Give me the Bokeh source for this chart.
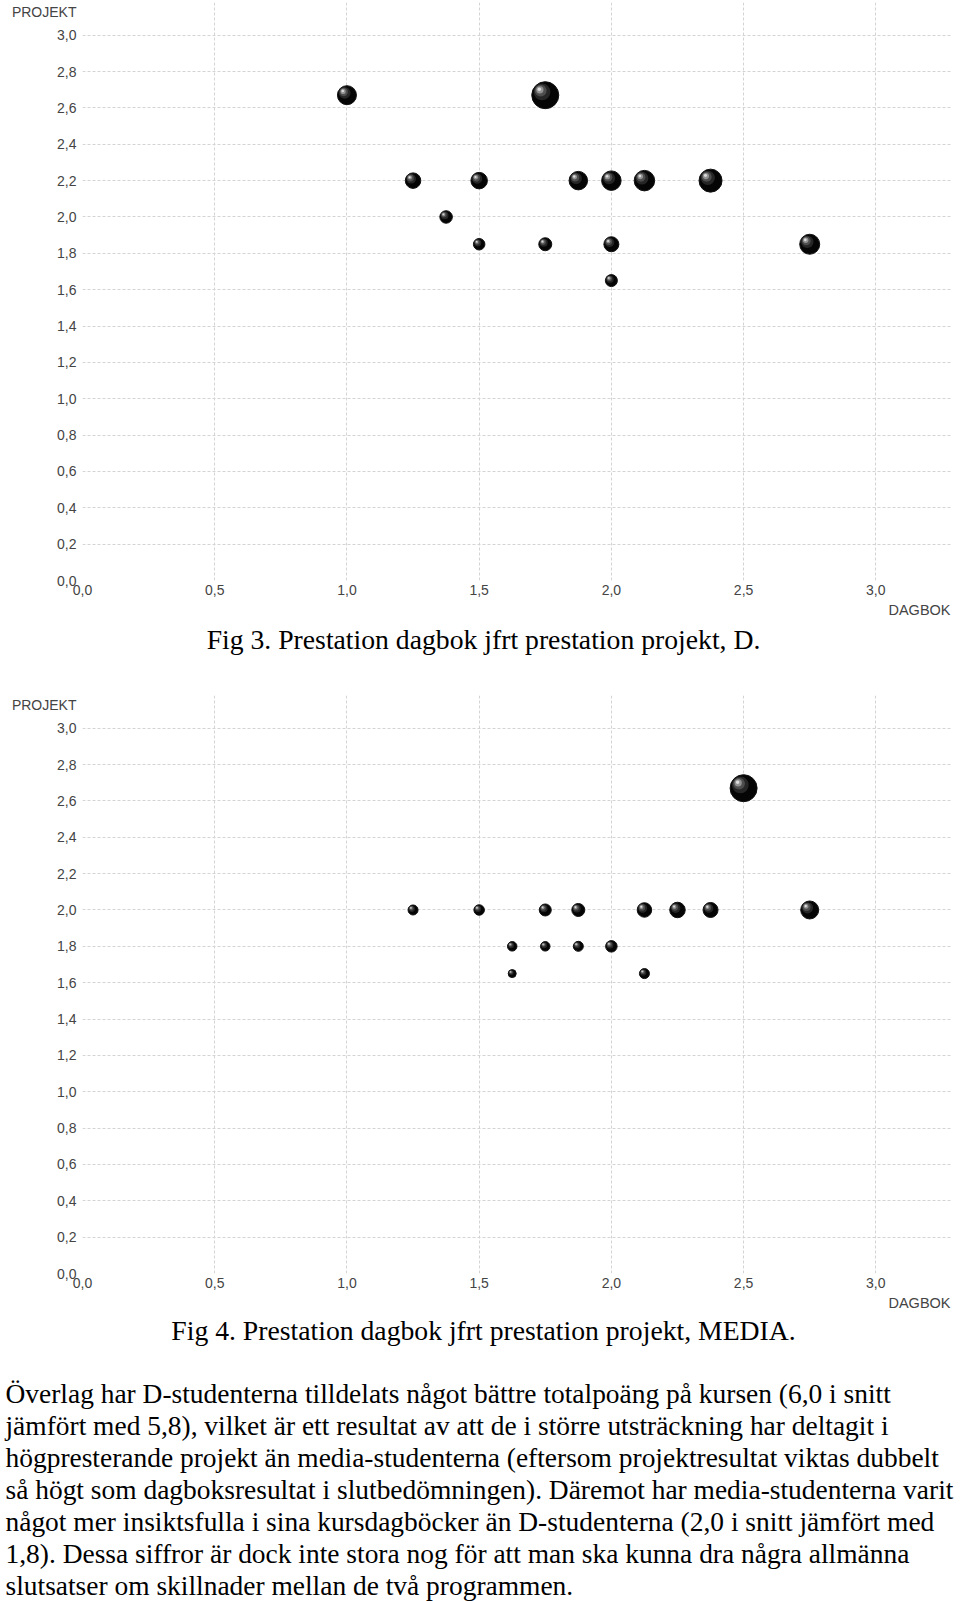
from bokeh.plotting import figure
from bokeh.models import ColumnDataSource, CustomJSTickFormatter, FixedTicker, Range1d
from bokeh.embed import file_html
from bokeh.resources import INLINE
from bokeh.core.properties import value

# ---------------- data ----------------
# Fig 3 (D-studenter)
d_dagbok = [1.0, 1.75, 1.25, 1.5, 1.875, 2.0, 2.125, 2.375, 1.375, 1.5, 1.75, 2.0, 2.75, 2.0]
d_projekt = [2.67, 2.67, 2.2, 2.2, 2.2, 2.2, 2.2, 2.2, 2.0, 1.85, 1.85, 1.85, 1.85, 1.65]
d_weight = [19, 27, 15.5, 16.5, 18.5, 19.5, 20.5, 23, 12.5, 11.5, 13, 15, 20, 12]

# Fig 4 (MEDIA-studenter)
m_dagbok = [2.5, 1.25, 1.5, 1.75, 1.875, 2.125, 2.25, 2.375, 2.75, 1.625, 1.75, 1.875, 2.0, 1.625, 2.125]
m_projekt = [2.67, 2.0, 2.0, 2.0, 2.0, 2.0, 2.0, 2.0, 2.0, 1.8, 1.8, 1.8, 1.8, 1.65, 1.65]
m_weight = [27, 10, 10.5, 12, 13, 14.5, 15.5, 15, 18, 9.5, 9.5, 10, 11.5, 8, 10]

x_ticks = [0.0, 0.5, 1.0, 1.5, 2.0, 2.5, 3.0]
y_ticks = [0.0, 0.2, 0.4, 0.6, 0.8, 1.0, 1.2, 1.4, 1.6, 1.8, 2.0, 2.2, 2.4, 2.6, 2.8, 3.0]
x_title = "DAGBOK"
y_title = "PROJEKT"
caption_d = "Fig 3. Prestation dagbok jfrt prestation projekt, D."
caption_m = "Fig 4. Prestation dagbok jfrt prestation projekt, MEDIA."
paragraph = [
    "Överlag har D-studenterna tilldelats något bättre totalpoäng på kursen (6,0 i snitt",
    "jämfört med 5,8), vilket är ett resultat av att de i större utsträckning har deltagit i",
    "högpresterande projekt än media-studenterna (eftersom projektresultat viktas dubbelt",
    "så högt som dagboksresultat i slutbedömningen). Däremot har media-studenterna varit",
    "något mer insiktsfulla i sina kursdagböcker än D-studenterna (2,0 i snitt jämfört med",
    "1,8). Dessa siffror är dock inte stora nog för att man ska kunna dra några allmänna",
    "slutsatser om skillnader mellan de två programmen.",
]

# ---------------- layout / style ----------------
PAGE_W = 960
X_END = 3.29
Y_END = 3.18
FRAME_W = 870
FRAME_H = 578
LEFT = 82
RIGHT = 8
BOTTOM = 22
TITLE_POS = 3.125          # where the y-axis title sits (as an extra axis label)
AX_FONT = "Liberation Sans"
SERIF = "Liberation Serif"
AX_COLOR = "#444444"
GRID = "#d4d4d4"
CAPTION_SIZE = "27.7px"
PARA_SIZE = "27.45px"
PARA_TOP = 98
PARA_STEP = 32


def make_chart(xs, ys, ws, top_border):
    p = figure(width=PAGE_W, height=top_border + FRAME_H + BOTTOM,
               x_range=Range1d(0, X_END), y_range=Range1d(0, Y_END),
               min_border_left=LEFT, min_border_right=RIGHT,
               min_border_top=top_border, min_border_bottom=BOTTOM,
               output_backend="svg", toolbar_location=None, tools="")
    p.outline_line_color = None
    p.background_fill_color = "white"
    p.border_fill_color = "white"
    p.xaxis.ticker = FixedTicker(ticks=x_ticks)
    p.yaxis.ticker = FixedTicker(ticks=y_ticks + [TITLE_POS])
    p.xaxis.formatter = CustomJSTickFormatter(code="return tick.toFixed(1).replace('.', ',');")
    p.yaxis.formatter = CustomJSTickFormatter(
        args=dict(title=y_title, limit=3.05),
        code="return tick > limit ? title : tick.toFixed(1).replace('.', ',');")
    for ax in (p.xaxis[0], p.yaxis[0]):
        ax.axis_line_color = None
        ax.major_tick_line_color = None
        ax.minor_tick_line_color = None
        ax.major_tick_in = 0
        ax.major_tick_out = 0
        ax.major_label_text_font = AX_FONT
        ax.major_label_text_font_size = "14px"
        ax.major_label_text_color = AX_COLOR
    p.xaxis.major_label_standoff = 4
    p.yaxis.major_label_standoff = 6
    p.xgrid.ticker = FixedTicker(ticks=x_ticks)
    p.ygrid.ticker = FixedTicker(ticks=y_ticks)
    for g in (p.xgrid[0], p.ygrid[0]):
        g.grid_line_color = GRID
        g.grid_line_dash = "3 2"
        g.grid_line_width = 1

    # sphere-like bubbles: black ball + soft highlight toward upper left
    px_x = FRAME_W / X_END
    px_y = FRAME_H / Y_END
    src = ColumnDataSource(dict(x=xs, y=ys, s=ws))
    p.scatter("x", "y", size="s", source=src, fill_color="#050505", line_color="#111111", line_width=1)
    for frac, off, col in ((0.62, 0.12, "#262626"),
                           (0.44, 0.17, "#4e4e4e"),
                           (0.27, 0.20, "#929292"),
                           (0.13, 0.22, "#dcdcdc")):
        hx = [x - off * w / px_x for x, w in zip(xs, ws)]
        hy = [y + off * w / px_y for y, w in zip(ys, ws)]
        hs = [frac * w for w in ws]
        p.scatter(hx, hy, size=hs, fill_color=col, line_color=None)
    return p


def text_panel(h):
    t = figure(width=PAGE_W, height=h, x_range=Range1d(0, PAGE_W), y_range=Range1d(h, 0),
               min_border=0, x_axis_location=None, y_axis_location=None,
               output_backend="svg", toolbar_location=None, tools="")
    t.grid.visible = False
    t.outline_line_color = None
    t.background_fill_color = "white"
    t.border_fill_color = "white"
    return t


def serif(t, xs, ys, texts, align, size):
    t.text(x=xs, y=ys, text=texts, text_align=align, text_baseline="middle",
           text_font=value(SERIF), text_font_size=value(size), text_color="black")


def axis_title(t):
    t.text(x=[950], y=[7.5], text=[x_title], text_align="right", text_baseline="middle",
           text_font=value(AX_FONT), text_font_size=value("14.5px"), text_color=AX_COLOR)


p1 = make_chart(d_dagbok, d_projekt, d_weight, 2)        # page y 0 .. 602
t1 = text_panel(90)                                       # page y 602 .. 692
axis_title(t1)
serif(t1, [483], [36.7], [caption_d], "center", CAPTION_SIZE)

p2 = make_chart(m_dagbok, m_projekt, m_weight, 3)        # page y 692 .. 1295
t2 = text_panel(306)                                      # page y 1295 .. 1601
axis_title(t2)
serif(t2, [483], [35], [caption_m], "center", CAPTION_SIZE)
serif(t2, [5] * len(paragraph), [PARA_TOP + PARA_STEP * i for i in range(len(paragraph))],
      paragraph, "left", PARA_SIZE)

open("out.html", "w").write(file_html([p1, t1, p2, t2], INLINE))
